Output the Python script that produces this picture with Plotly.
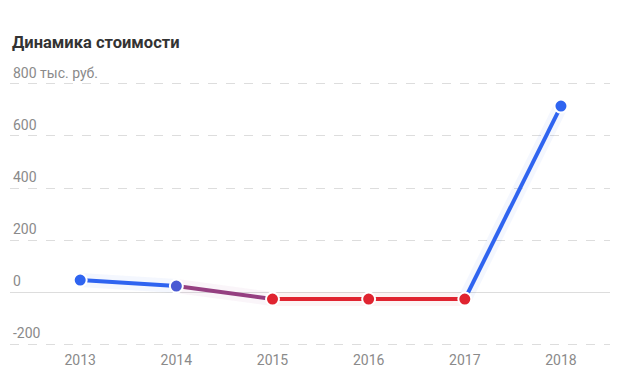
import plotly.graph_objects as go

years = ["2013", "2014", "2015", "2016", "2017", "2018"]
values = [46, 23, -27, -27, -27, 715]
tick_vals = [-200, 0, 200, 400, 600, 800]
tick_text = ["-200", "0", "200", "400", "600", "800 тыс. руб."]
title_text = "Динамика стоимости"

BLUE = (47, 100, 240)
RED = (224, 36, 48)


def col(v, a=1.0):
    t = (v - (-27)) / (32 - (-27))
    t = max(0.0, min(1.0, t))
    r, g, b = [round(RED[i] + (BLUE[i] - RED[i]) * t) for i in range(3)]
    return f"rgba({r},{g},{b},{a})"


fig = go.Figure()

for i in range(len(years) - 1):
    mid = (values[i] + values[i + 1]) / 2
    fig.add_trace(go.Scatter(x=years[i:i + 2], y=values[i:i + 2], mode="lines",
                             line=dict(color=col(mid, 0.05), width=14),
                             hoverinfo="skip", showlegend=False))
for i in range(len(years) - 1):
    mid = (values[i] + values[i + 1]) / 2
    fig.add_trace(go.Scatter(x=years[i:i + 2], y=values[i:i + 2], mode="lines",
                             line=dict(color=col(mid), width=4),
                             hoverinfo="skip", showlegend=False))

fig.add_trace(go.Scatter(x=years, y=values, mode="markers",
                         marker=dict(size=13, color=[col(v) for v in values],
                                     line=dict(color="white", width=2)),
                         showlegend=False))

annotations = [dict(text=title_text, xref="paper", yref="paper", x=0, y=1.0807,
                    xanchor="left", yanchor="middle", showarrow=False,
                    font=dict(size=16.5, color="#333333", family="Roboto, sans-serif", weight="bold"))]
for v, t in zip(tick_vals, tick_text):
    annotations.append(dict(text=t, xref="paper", yref="y", x=0, y=v, xshift=1, yshift=1,
                            xanchor="left", yanchor="bottom", showarrow=False,
                            font=dict(size=14, color="#8a8a8a", family="Roboto, sans-serif")))

fig.update_layout(
    width=624, height=384,
    margin=dict(l=10, r=14, t=65, b=34),
    paper_bgcolor="white", plot_bgcolor="white",
    font=dict(family="Roboto, sans-serif", color="#8a8a8a", size=14),
    annotations=annotations,
)
fig.update_xaxes(type="category", range=[-0.73, 5.51], showgrid=False, zeroline=False,
                 showline=False, ticks="", tickfont=dict(size=14, color="#8a8a8a"))
fig.update_yaxes(range=[-223, 873], tickvals=tick_vals, showticklabels=False,
                 showgrid=True, gridcolor="#dddddd",
                 griddash="dash", gridwidth=1, zeroline=True, zerolinecolor="#dddddd",
                 zerolinewidth=1, ticks="")

fig.write_html("out.html")
